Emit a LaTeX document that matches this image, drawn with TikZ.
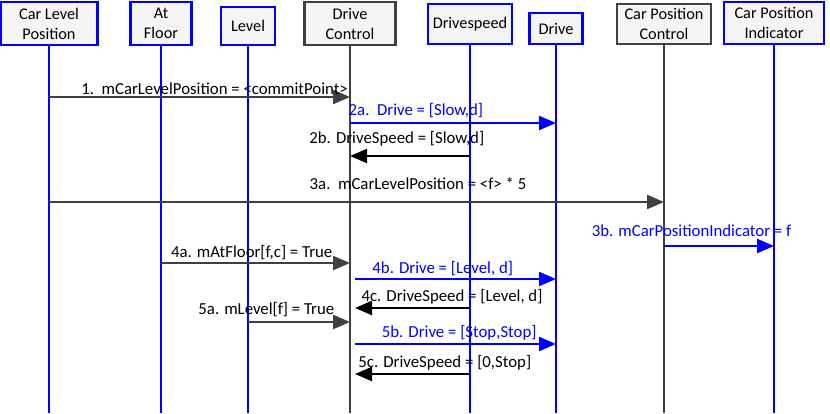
\documentclass[tikz,border=0pt]{standalone}
\usepackage{fontspec}
\setmainfont{Carlito}
\usetikzlibrary{positioning, arrows.meta}

\definecolor{lineblue}{RGB}{0,0,255}
\definecolor{darkline}{RGB}{64,64,64}

\tikzset{
    obj/.style={draw=lineblue, line width=2.8pt, fill=black!4, align=center,
        inner sep=0pt, font=\fontsize{16.3}{20}\selectfont},
    ctrl/.style={obj, draw=darkline},
    life/.style={lineblue, line width=1.3pt},
    ctrllife/.style={darkline, line width=1.3pt},
    msg/.style={line width=2.3pt, -{Triangle[length=17pt,width=14pt]}},
    lbl/.style={font=\fontsize{16.8}{19}\selectfont, inner sep=0pt, anchor=center}
}

\begin{document}
\begin{tikzpicture}[x=1pt, y=-1pt]
    \useasboundingbox (0,0) rectangle (830,413);

    % objects
    \node[obj, minimum width=97, minimum height=43] at (49,23.5) (clp) {Car Level\\Position};
    \node[obj, minimum width=61, minimum height=43] at (161,23.5) (af) {At\\Floor};
    \node[obj, minimum width=54, minimum height=38] at (248,26) (lv) {Level};
    \node[ctrl, minimum width=91, minimum height=43] at (350,23.5) (dc) {Drive\\Control};
    \node[obj, minimum width=84, minimum height=40] at (470,24) (ds) {Drivespeed};
    \node[obj, minimum width=53, minimum height=31] at (556,28.5) (dr) {Drive};
    \node[ctrl, minimum width=94, minimum height=40] at (664,24) (cpc) {Car Position\\Control};
    \node[obj, minimum width=100, minimum height=42] at (774,23) (cpi) {Car Position\\Indicator};

    % lifelines
    \coordinate (clp-b) at (49,413);
    \coordinate (af-b) at (161,413);
    \coordinate (lv-b) at (248,413);
    \coordinate (dc-b) at (350,413);
    \coordinate (ds-b) at (470,413);
    \coordinate (dr-b) at (556,413);
    \coordinate (cpc-b) at (664,413);
    \coordinate (cpi-b) at (774,413);
    \draw[life] (clp) -- (clp-b) (af) -- (af-b) (lv) -- (lv-b)
                (ds) -- (ds-b) (dr) -- (dr-b) (cpi) -- (cpi-b);
    \draw[ctrllife] (dc) -- (dc-b) (cpc) -- (cpc-b);

    % message rows
    \coordinate (m1) at (0,97);
    \coordinate (m2a) at (0,123);
    \coordinate (m2b) at (0,156);
    \coordinate (m3a) at (0,202);
    \coordinate (m3b) at (0,246);
    \coordinate (m4a) at (0,263);
    \coordinate (m4b) at (0,279);
    \coordinate (m4c) at (0,308);
    \coordinate (m5a) at (0,322);
    \coordinate (m5b) at (0,344);
    \coordinate (m5c) at (0,374);

    % messages
    \draw[msg, darkline] (clp |- m1) -- (dc |- m1)
        node[lbl, black, pos=0.55, yshift=8pt] {1.\ \ mCarLevelPosition = <commitPoint>};
    \draw[msg, lineblue] (dc |- m2a) -- (dr |- m2a)
        node[lbl, pos=0.32, yshift=12pt] {2a.\ \ Drive = [Slow,d]};
    \draw[msg, black] (ds |- m2b) -- (dc |- m2b)
        node[lbl, pos=0.61, yshift=17pt] {2b. DriveSpeed = [Slow,d]};
    \draw[msg, darkline] (clp |- m3a) -- (cpc |- m3a)
        node[lbl, black, pos=0.60, yshift=18pt] {3a.\ \ mCarLevelPosition = <f> * 5};
    \draw[msg, lineblue] (cpc |- m3b) -- (cpi |- m3b)
        node[lbl, pos=0.25, yshift=15pt] {3b. mCarPositionIndicator = f};
    \draw[msg, darkline] (af |- m4a) -- (dc |- m4a)
        node[lbl, black, pos=0.48, yshift=10pt] {4a. mAtFloor[f,c] = True};
    \draw[msg, lineblue, shorten <=5pt] (dc |- m4b) -- (dr |- m4b)
        node[lbl, pos=0.45, yshift=10pt] {4b. Drive = [Level, d]};
    \draw[msg, black, shorten >=5pt] (ds |- m4c) -- (dc |- m4c)
        node[lbl, pos=0.15, yshift=11pt] {4c. DriveSpeed = [Level, d]};
    \draw[msg, darkline] (lv |- m5a) -- (dc |- m5a)
        node[lbl, black, pos=0.18, yshift=12pt] {5a. mLevel[f] = True};
    \draw[msg, lineblue, shorten <=5pt] (dc |- m5b) -- (dr |- m5b)
        node[lbl, pos=0.53, yshift=11pt] {5b. Drive = [Stop,Stop]};
    \draw[msg, black, shorten >=5pt] (ds |- m5c) -- (dc |- m5c)
        node[lbl, pos=0.21, yshift=11pt] {5c. DriveSpeed = [0,Stop]};
\end{tikzpicture}
\end{document}
